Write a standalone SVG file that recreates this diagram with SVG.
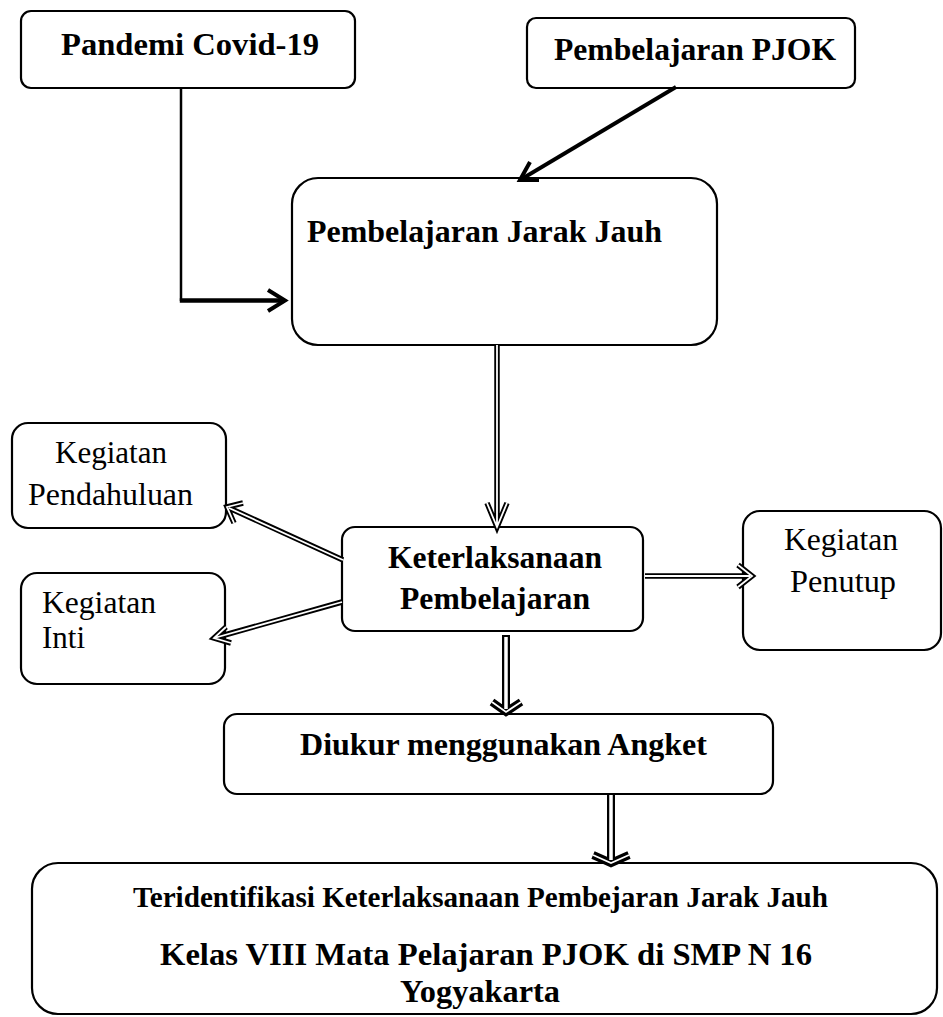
<svg xmlns="http://www.w3.org/2000/svg" width="943" height="1017" viewBox="0 0 943 1017">
<style>
.box{fill:#fff;stroke:#000;stroke-width:2.2}
.b{font-family:"Liberation Serif","Times New Roman",serif;font-weight:bold;font-size:32px;fill:#000}
.r{font-family:"Liberation Serif","Times New Roman",serif;font-size:32px;fill:#000}
.ln{fill:none;stroke:#000;stroke-linecap:butt;stroke-linejoin:miter}
.ho{fill:none;stroke:#000;stroke-width:5.5;stroke-linejoin:miter}
.hi{fill:none;stroke:#fff;stroke-width:1.8;stroke-linejoin:miter}
.ho2{fill:none;stroke:#000;stroke-width:8;stroke-linejoin:miter}
.hi2{fill:none;stroke:#fff;stroke-width:3.5;stroke-linejoin:miter}
</style>
<rect width="943" height="1017" fill="#fff"/>
<g id="n-pandemi">
<rect class="box" x="21" y="11" width="334" height="77" rx="10"/>
<text class="b" x="61" y="55" textLength="258" lengthAdjust="spacingAndGlyphs">Pandemi Covid-19</text>
</g>
<g id="n-pjok">
<rect class="box" x="527" y="18" width="328" height="70" rx="9"/>
<text class="b" x="554" y="60" textLength="282" lengthAdjust="spacingAndGlyphs">Pembelajaran PJOK</text>
</g>
<g id="n-jarakjauh">
<rect class="box" x="292" y="178" width="425" height="167" rx="26"/>
<text class="b" x="307" y="242" textLength="355" lengthAdjust="spacingAndGlyphs">Pembelajaran Jarak Jauh</text>
</g>
<g id="n-keterlaksanaan">
<rect class="box" x="342" y="527" width="301" height="104" rx="13"/>
<text class="b" x="388" y="568" textLength="214" lengthAdjust="spacingAndGlyphs">Keterlaksanaan</text>
<text class="b" x="400" y="609" textLength="190" lengthAdjust="spacingAndGlyphs">Pembelajaran</text>
</g>
<g id="n-pendahuluan">
<rect class="box" x="12" y="423" width="214" height="105" rx="16"/>
<text class="r" x="55" y="463" textLength="112" lengthAdjust="spacingAndGlyphs">Kegiatan</text>
<text class="r" x="28" y="505" textLength="165" lengthAdjust="spacingAndGlyphs">Pendahuluan</text>
</g>
<g id="n-inti">
<rect class="box" x="21" y="573" width="204" height="111" rx="16"/>
<text class="r" x="42" y="613" textLength="114" lengthAdjust="spacingAndGlyphs">Kegiatan</text>
<text class="r" x="42" y="648" textLength="43" lengthAdjust="spacingAndGlyphs">Inti</text>
</g>
<g id="n-penutup">
<rect class="box" x="743" y="511" width="198" height="139" rx="17"/>
<text class="r" x="784" y="550" textLength="114" lengthAdjust="spacingAndGlyphs">Kegiatan</text>
<text class="r" x="790" y="592" textLength="106" lengthAdjust="spacingAndGlyphs">Penutup</text>
</g>
<g id="n-diukur">
<rect class="box" x="224" y="714" width="549" height="80" rx="13"/>
<text class="b" x="300" y="755" textLength="407" lengthAdjust="spacingAndGlyphs">Diukur menggunakan Angket</text>
</g>
<g id="n-hasil">
<rect class="box" x="32" y="863" width="905" height="151" rx="26"/>
<text class="b" x="133" y="907" font-size="29" style="font-size:29px" textLength="695" lengthAdjust="spacingAndGlyphs">Teridentifikasi Keterlaksanaan Pembejaran Jarak Jauh</text>
<text class="b" x="160" y="965" textLength="652" lengthAdjust="spacingAndGlyphs">Kelas VIII Mata Pelajaran PJOK di SMP N 16</text>
<text class="b" x="400" y="1002" textLength="160" lengthAdjust="spacingAndGlyphs">Yogyakarta</text>
</g>
<g id="connectors">
<path class="ln" d="M181 88 V301" stroke-width="2.5"/>
<path class="ln" d="M179.8 300.5 H285" stroke-width="4.5"/>
<path class="ln" d="M268 290 L285 300.5 L268 311" stroke-width="4"/>
<path class="ln" d="M676 87 L520 180" stroke-width="3.8"/>
<path class="ln" d="M530 162 L520 180 L539 180" stroke-width="4"/>
<path class="ho" d="M497 345 V527 M487 503 L497 527 L507 503"/>
<path class="hi" d="M497 345 V525 M487 503 L497 527 L507 503"/>
<path class="ho" d="M343 560 L227 507 M243 503 L227 507 L234 523"/>
<path class="hi" d="M343 560 L229 508 M243 503 L227 507 L234 523"/>
<path class="ho" d="M342 602 L214 638 M226 627 L214 638 L231 643"/>
<path class="hi" d="M342 602 L216 637.5 M226 627 L214 638 L231 643"/>
<path class="ho" d="M645 576 H752 M738 565 L752 576 L738 587"/>
<path class="hi" d="M645 576 H750 M738 565 L752 576 L738 587"/>
<path class="ho2" d="M506 635 V712 M492 702 L506 712 L521 702"/>
<path class="hi2" d="M506 637 V709"/>
<path class="hi" d="M492 702 L506 712 L521 702"/>
<path class="ho2" d="M611 795 V863 M593 855 L611 863 L629 855"/>
<path class="hi2" d="M611 795 V860"/>
<path class="hi" d="M593 855 L611 863 L629 855"/>
</g>
</svg>
